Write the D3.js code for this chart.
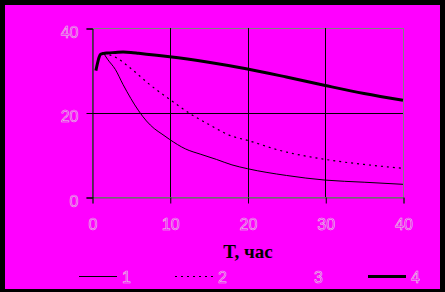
<!DOCTYPE html>
<html>
<head>
<meta charset="utf-8">
<script src="https://cdn.jsdelivr.net/npm/d3@7"></script>
<style>
  body { margin: 0; background: #000; }
  svg { display: block; }
</style>
</head>
<body>
<svg></svg>
<script>
const width = 445;
const height = 292;

// series data (T in hours)
const t1 = [1.5, 2, 3, 4, 5, 6, 7, 8, 9, 10, 12, 14, 16, 18, 20, 25, 30, 35, 40];
const s1 = [34.0, 32.6, 30.2, 26.6, 23.3, 20.4, 18.0, 16.2, 14.9, 13.6, 11.4, 10.1, 8.9, 7.6, 6.7, 5.1, 4.0, 3.5, 3.0];

const t2 = [1.5, 3, 5, 7.5, 10, 12.8, 15, 18, 20, 24, 30, 35, 40];
const s2 = [34.0, 33.1, 30.4, 26.5, 23.1, 19.5, 17.2, 14.4, 13.4, 11.1, 8.9, 7.7, 6.8];

const t4 = [0.5, 0.7, 0.9, 1.1, 1.5, 2, 3, 4, 5, 6, 8, 10, 15, 20, 25, 30, 35, 40];
const s4 = [29.9, 31.6, 33.0, 33.8, 34.0, 34.1, 34.2, 34.3, 34.2, 34.0, 33.6, 33.2, 31.9, 30.3, 28.4, 26.4, 24.5, 22.9];

const xTicks = [0, 10, 20, 30, 40];
const yTicks = [0, 20, 40];
const legendNames = ['1', '2', '3', '4'];
const xTitle = 'T, час';

const series = [
  { name: '1', t: t1, v: s1, w: 1, dash: null },
  { name: '2', t: t2, v: s2, w: 1.2, dash: '2,4' },
  { name: '4', t: t4, v: s4, w: 3, dash: null }
];

const svg = d3.select('svg')
  .attr('width', width)
  .attr('height', height);

svg.append('rect')
  .attr('x', 5).attr('y', 5)
  .attr('width', 435).attr('height', 284)
  .attr('fill', '#ff00ff');

const x = d3.scaleLinear().domain([0, 40]).range([92, 403]);
const y = d3.scaleLinear().domain([0, 40]).range([197, 28]);

// plot frame
svg.append('rect')
  .attr('x', x(0) + 0.5).attr('y', y(40) + 0.5)
  .attr('width', x(40) - x(0)).attr('height', y(0) - y(40))
  .attr('fill', 'none')
  .attr('stroke', '#808080');

// grid
svg.append('g').selectAll('line')
  .data(xTicks.filter(d => d > 0 && d < 40))
  .enter().append('line')
  .attr('x1', d => Math.round(x(d)) + 0.5).attr('x2', d => Math.round(x(d)) + 0.5)
  .attr('y1', y(40)).attr('y2', y(0))
  .attr('stroke', '#000');

svg.append('g').selectAll('line')
  .data(yTicks.filter(d => d > 0 && d < 40))
  .enter().append('line')
  .attr('x1', x(0)).attr('x2', x(40))
  .attr('y1', d => Math.round(y(d)) + 0.5).attr('y2', d => Math.round(y(d)) + 0.5)
  .attr('stroke', '#000');

// hollow light digits like the original
const labelStyle = g => g.selectAll('text')
  .attr('font-family', 'Liberation Sans, Arial, sans-serif')
  .attr('font-size', 16)
  .attr('fill', '#ff00ff')
  .attr('stroke', '#dcdcdc')
  .attr('stroke-width', 0.55);

const xAxis = svg.append('g')
  .attr('transform', 'translate(0.5,' + (y(0) + 0.5) + ')')
  .call(d3.axisBottom(x).tickValues(xTicks).tickSize(6).tickPadding(15).tickFormat(d3.format('d')));
xAxis.select('.domain').attr('stroke', '#606060');
xAxis.selectAll('.tick line').attr('stroke', '#000');
xAxis.call(labelStyle);

const yAxis = svg.append('g')
  .attr('transform', 'translate(' + (x(0) + 0.5) + ',0.5)')
  .call(d3.axisLeft(y).tickValues(yTicks).tickSize(6).tickPadding(8).tickFormat(d3.format('d')));
yAxis.select('.domain').attr('stroke', '#000');
yAxis.selectAll('.tick line').attr('stroke', '#000');
yAxis.call(labelStyle);
yAxis.selectAll('text').attr('dy', '0.55em');

// lines
const line = d3.line()
  .x(d => x(d[0]))
  .y(d => y(d[1]))
  .curve(d3.curveMonotoneX);

svg.append('g').selectAll('path')
  .data(series)
  .enter().append('path')
  .attr('d', d => line(d.t.map((t, i) => [t, d.v[i]])))
  .attr('fill', 'none')
  .attr('stroke', '#000')
  .attr('stroke-width', d => d.w)
  .attr('stroke-dasharray', d => d.dash);

// axis title
svg.append('text')
  .attr('x', 248).attr('y', 258)
  .attr('text-anchor', 'middle')
  .attr('font-family', 'Liberation Serif, Times New Roman, serif')
  .attr('font-weight', 'bold')
  .attr('font-size', 19)
  .attr('fill', '#000')
  .text(xTitle);

// legend
const legendX = [79, 175, 271, 368];
const legendStyle = { '1': [1, null], '2': [1.2, '2,4'], '3': [0, null], '4': [3, null] };
const legend = svg.append('g').selectAll('g')
  .data(legendNames)
  .enter().append('g')
  .attr('transform', (d, i) => 'translate(' + legendX[i] + ',276.5)');

legend.append('line')
  .attr('x1', 0).attr('x2', 38)
  .attr('stroke', d => legendStyle[d][0] ? '#000' : 'none')
  .attr('stroke-width', d => legendStyle[d][0])
  .attr('stroke-dasharray', d => legendStyle[d][1]);

legend.append('text')
  .attr('x', 43).attr('y', 6.5)
  .attr('font-family', 'Liberation Sans, Arial, sans-serif')
  .attr('font-size', 16)
  .attr('fill', '#ff00ff')
  .attr('stroke', '#dcdcdc')
  .attr('stroke-width', 0.55)
  .text(d => d);
</script>
</body>
</html>
